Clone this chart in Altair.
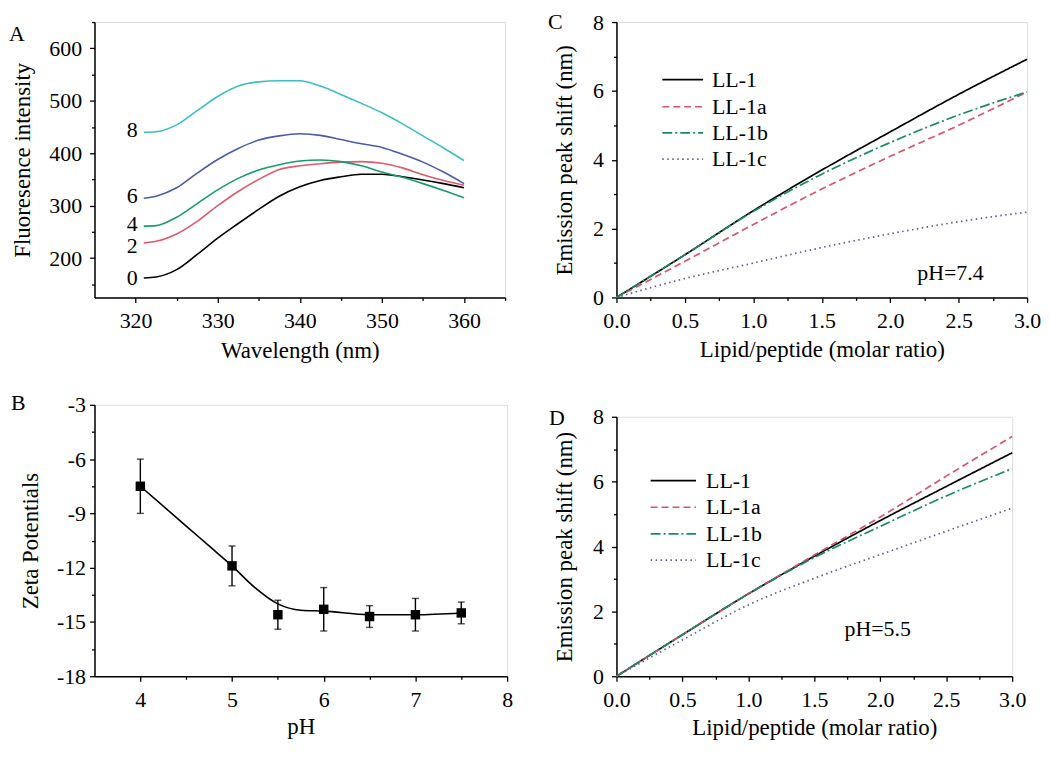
import altair as alt
import pandas as pd

FONT = "Liberation Serif"
LBL = 22
TTL = 23

# ---------------- Panel A : fluorescence spectra ----------------
wavelength = [321, 322.5, 325, 327.5, 330, 332.5, 335, 337.5, 340, 342.5, 345,
              347.5, 350, 352.5, 355, 357.5, 360]
a_series = ["0", "2", "4", "6", "8"]
intensity_0 = [162, 164, 178, 207, 238, 266, 293, 318, 336, 348, 355, 360, 360, 355, 349, 342, 334]
intensity_2 = [229, 232, 246, 270, 300, 327, 350, 369, 376, 380, 383, 384, 381, 372, 359, 348, 339]
intensity_4 = [261, 262, 278, 304, 330, 352, 368, 378, 385, 387, 384, 376, 364, 354, 342, 329, 315]
intensity_6 = [314, 318, 334, 362, 388, 409, 425, 433, 437, 434, 426, 418, 411, 398, 383, 364, 342]
intensity_8 = [440, 441, 454, 481, 508, 528, 536, 538, 538, 528, 512, 495, 477, 456, 433, 410, 386]
a_colors = ["#000000", "#e05a6a", "#189c6c", "#4a5ca6", "#3dbdc4"]

# ---------------- Panel B : zeta potentials ----------------
ph = [4.0, 5.0, 5.5, 6.0, 6.5, 7.0, 7.5]
zeta = [-7.5, -11.9, -14.6, -14.3, -14.7, -14.6, -14.5]
zeta_err = [1.5, 1.1, 0.8, 1.2, 0.6, 0.9, 0.6]
ph_curve = [4.0, 4.25, 4.5, 4.75, 5.0, 5.25, 5.5, 5.75, 6.0, 6.5, 7.0, 7.5]
zeta_curve = [-7.5, -8.6, -9.7, -10.8, -11.9, -13.1, -14.0, -14.35, -14.4, -14.6, -14.6, -14.5]

# ---------------- Panels C / D : emission peak shift ----------------
ratio = [0.0, 0.5, 1.0, 1.5, 2.0, 2.5, 3.0]
cd_series = ["LL-1", "LL-1a", "LL-1b", "LL-1c"]
c_ll1 = [0, 1.24, 2.52, 3.70, 4.81, 5.90, 6.92]
c_ll1a = [0, 1.05, 2.12, 3.15, 4.10, 5.00, 5.97]
c_ll1b = [0, 1.24, 2.50, 3.58, 4.50, 5.30, 5.97]
c_ll1c = [0, 0.55, 1.00, 1.45, 1.85, 2.20, 2.48]
d_ll1 = [0, 1.28, 2.54, 3.70, 4.80, 5.85, 6.89]
d_ll1a = [0, 1.28, 2.54, 3.74, 4.91, 6.17, 7.39]
d_ll1b = [0, 1.28, 2.54, 3.66, 4.62, 5.56, 6.40]
d_ll1c = [0, 1.12, 2.20, 3.02, 3.75, 4.47, 5.18]
cd_colors = ["#000000", "#d9546c", "#1b8a64", "#5c5c9c"]
cd_dashes = [[1, 0], [7, 4], [10, 3, 2, 3], [1.5, 3.5]]


def axis(title, values, label_expr, major_test, lpad=8, tpad=10):
    return alt.Axis(
        title=title, values=values, labelExpr=label_expr,
        tickSize={"condition": {"test": major_test, "value": 5}, "value": 3},
        tickColor="black", tickWidth=1.3, domainColor="black", domainWidth=1.5,
        labelFont=FONT, labelFontSize=LBL, labelColor="black",
        labelPadding=lpad, labelOverlap=False, labelFlush=False,
        titleFont=FONT, titleFontSize=TTL, titleFontWeight="normal",
        titleColor="black", titlePadding=tpad, grid=False,
    )


def text_mark(align="left", **kw):
    d = dict(align=align, baseline="middle", font=FONT, fontSize=LBL, color="black")
    d.update(kw)
    return d


# ---------- A ----------
a_vals = {"0": intensity_0, "2": intensity_2, "4": intensity_4,
          "6": intensity_6, "8": intensity_8}
dfA = pd.DataFrame([{"wavelength": w, "intensity": v, "conc": s}
                    for s in a_series for w, v in zip(wavelength, a_vals[s])])
axA_x = axis("Wavelength (nm)", list(range(320, 370, 5)),
             "datum.value % 10 == 0 && datum.value <= 360 ? '' + datum.value : ''",
             "datum.value % 10 == 0", lpad=8, tpad=8)
axA_y = axis("Fluoresence intensity", list(range(150, 700, 50)),
             "datum.value >= 650 ? ' ' : (datum.value % 100 == 0 ? '' + datum.value : '')",
             "datum.value % 100 == 0", lpad=8, tpad=14)
xA = alt.X("wavelength:Q", scale=alt.Scale(domain=[315, 365], nice=False, zero=False), axis=axA_x)
yA = alt.Y("intensity:Q", scale=alt.Scale(domain=[125, 650], nice=False, zero=False), axis=axA_y)
colA = alt.Color("conc:N", scale=alt.Scale(domain=a_series, range=a_colors), legend=None)
linesA = alt.Chart(dfA).mark_line(strokeWidth=1.6, interpolate="monotone").encode(
    x=xA, y=yA, color=colA)
startA = dfA.groupby("conc", as_index=False).first()
labA_hi = alt.Chart(startA).transform_filter(
    alt.FieldOneOfPredicate(field="conc", oneOf=["4", "6", "8"])
).mark_text(**text_mark("right", dx=-6, dy=-2)).encode(x=xA, y=yA, text="conc:N")
labA_2 = alt.Chart(startA).transform_filter(
    alt.FieldEqualPredicate(field="conc", equal="2")
).mark_text(**text_mark("right", dx=-6, dy=3)).encode(x=xA, y=yA, text="conc:N")
labA_0 = alt.Chart(startA).transform_filter(
    alt.FieldEqualPredicate(field="conc", equal="0")
).mark_text(**text_mark("right", dx=-6)).encode(x=xA, y=yA, text="conc:N")
letterA = alt.Chart(pd.DataFrame({"wavelength": [304.6], "intensity": [627], "txt": ["A"]})).mark_text(
    **text_mark()).encode(x=xA, y=yA, text="txt:N")
panelA = alt.layer(linesA, labA_hi, labA_2, labA_0, letterA).properties(width=413, height=277)

# ---------- B ----------
dfB = pd.DataFrame({"pH": ph, "zeta": zeta,
                    "lo": [z - e for z, e in zip(zeta, zeta_err)],
                    "hi": [z + e for z, e in zip(zeta, zeta_err)]})
dfBc = pd.DataFrame({"pH": ph_curve, "zeta": zeta_curve})
axB_x = axis("pH", [4 + 0.5 * i for i in range(9)],
             "datum.value % 1 == 0 ? '' + datum.value : ''",
             "datum.value % 1 == 0", lpad=8, tpad=6)
axB_y = axis("Zeta Potentials", [-18 + 1.5 * i for i in range(11)],
             "datum.value % 3 == 0 ? '' + datum.value : ''",
             "datum.value % 3 == 0", lpad=4, tpad=14)


def xB(field="pH"):
    return alt.X(field + ":Q", scale=alt.Scale(domain=[3.5, 8], nice=False, zero=False), axis=axB_x)


def yB(field="zeta"):
    return alt.Y(field + ":Q", scale=alt.Scale(domain=[-18, -3], nice=False, zero=False), axis=axB_y)


curveB = alt.Chart(dfBc).mark_line(color="black", strokeWidth=1.6, interpolate="monotone").encode(
    x=xB(), y=yB())
errB = alt.Chart(dfB).mark_rule(color="black", strokeWidth=1.4).encode(
    x=xB(), y=yB("lo"), y2="hi:Q")
capLo = alt.Chart(dfB).mark_tick(color="black", orient="horizontal", size=7, thickness=1.4).encode(
    x=xB(), y=yB("lo"))
capHi = alt.Chart(dfB).mark_tick(color="black", orient="horizontal", size=7, thickness=1.4).encode(
    x=xB(), y=yB("hi"))
ptsB = alt.Chart(dfB).mark_square(color="black", size=90, opacity=1).encode(x=xB(), y=yB())
letterB = alt.Chart(pd.DataFrame({"pH": [2.59], "zeta": [-2.9], "txt": ["B"]})).mark_text(
    **text_mark()).encode(x=xB(), y=yB(), text="txt:N")
panelB = alt.layer(curveB, errB, capLo, capHi, ptsB, letterB).properties(width=415, height=273)


# ---------- C / D ----------
def shift_panel(vals, width, height, annot, annot_xy, letter_txt, letter_xy, leg):
    df = pd.DataFrame([{"ratio": r, "shift": v, "series": s}
                       for s in cd_series for r, v in zip(ratio, vals[s])])
    x = alt.X("ratio:Q", scale=alt.Scale(domain=[0, 3], nice=False, zero=False),
              axis=axis("Lipid/peptide (molar ratio)", [0.25 * i for i in range(13)],
                        "datum.value % 0.5 == 0 ? format(datum.value, '.1f') : ''",
                        "datum.value % 0.5 == 0", lpad=8, tpad=7))
    y = alt.Y("shift:Q", scale=alt.Scale(domain=[0, 8], nice=False, zero=False),
              axis=axis("Emission peak shift (nm)", list(range(0, 9)),
                        "datum.value % 2 == 0 ? '' + datum.value : ''",
                        "datum.value % 2 == 0", lpad=8, tpad=16))
    color = alt.Color("series:N", scale=alt.Scale(domain=cd_series, range=cd_colors), legend=None)
    dash = alt.StrokeDash("series:N", scale=alt.Scale(domain=cd_series, range=cd_dashes), legend=None)
    lines = alt.Chart(df).mark_line(strokeWidth=1.7, interpolate="monotone").encode(
        x=x, y=y, color=color, strokeDash=dash)
    # legend entries, drawn in the data space of the panel
    x0, x1, tx, rows = leg
    leg_df = pd.DataFrame({"series": cd_series, "ratio": [x0] * 4, "ratio2": [x1] * 4, "shift": rows})
    leg_lines = alt.Chart(leg_df).mark_rule(strokeWidth=1.7).encode(
        x=x, x2="ratio2:Q", y=y, color=color, strokeDash=dash)
    leg_txt_df = pd.DataFrame({"series": cd_series, "ratio": [tx] * 4, "shift": rows})
    leg_text = alt.Chart(leg_txt_df).mark_text(**text_mark()).encode(x=x, y=y, text="series:N")
    ann = alt.Chart(pd.DataFrame({"ratio": [annot_xy[0]], "shift": [annot_xy[1]], "txt": [annot]})).mark_text(
        **text_mark("center")).encode(x=x, y=y, text="txt:N")
    let = alt.Chart(pd.DataFrame({"ratio": [letter_xy[0]], "shift": [letter_xy[1]], "txt": [letter_txt]})).mark_text(
        **text_mark()).encode(x=x, y=y, text="txt:N")
    return alt.layer(lines, leg_lines, leg_text, ann, let).properties(width=width, height=height)


panelC = shift_panel({"LL-1": c_ll1, "LL-1a": c_ll1a, "LL-1b": c_ll1b, "LL-1c": c_ll1c},
                     413, 277, "pH=7.4", (2.44, 0.71), "C", (-0.50, 8.0),
                     (0.335, 0.633, 0.698, [6.33, 5.54, 4.78, 4.02]))
panelD = shift_panel({"LL-1": d_ll1, "LL-1a": d_ll1a, "LL-1b": d_ll1b, "LL-1c": d_ll1c},
                     398, 261, "pH=5.5", (1.98, 1.45), "D", (-0.512, 7.96),
                     (0.259, 0.603, 0.679, [6.03, 5.21, 4.39, 3.58]))

colL = alt.vconcat(panelA, panelB, spacing=108, bounds="flush").resolve_scale(
    color="independent", strokeDash="independent")
colR = alt.vconcat(panelC, panelD, spacing=120, bounds="flush").resolve_scale(
    color="independent", strokeDash="independent")

chart = alt.hconcat(colL, colR, spacing=34).resolve_scale(
    color="independent", strokeDash="independent"
).properties(
    padding={"left": 0, "top": 0, "right": 0, "bottom": 0},
    background="white",
).configure_view(stroke="black", strokeWidth=1.5).configure(font=FONT)

chart.save("out.html", embed_options={"renderer": "svg", "actions": False})
